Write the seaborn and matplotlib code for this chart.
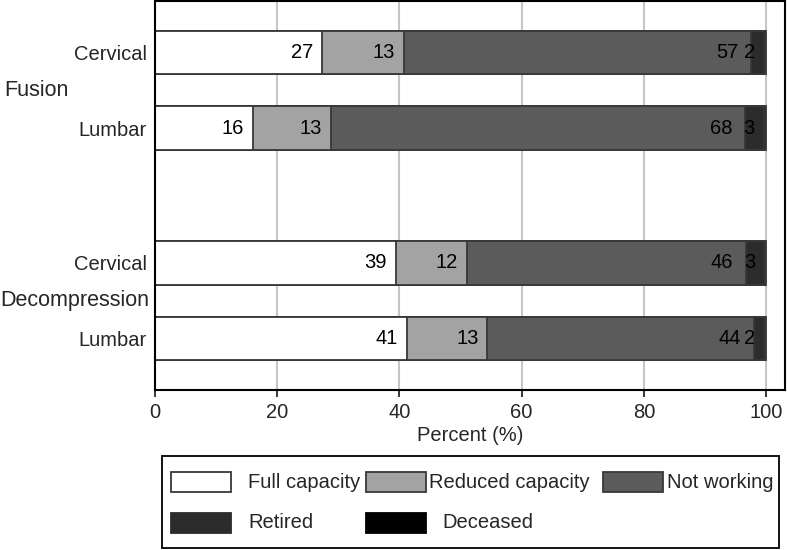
import numpy as np
import matplotlib
matplotlib.use("Agg")
import matplotlib.pyplot as plt
import matplotlib.transforms as mtransforms
from matplotlib.patches import Rectangle
import seaborn as sns

# data (percent of patients)
groups = ["Fusion", "Decompression"]
sites = ["Cervical", "Lumbar", "Cervical", "Lumbar"]
categories = ["Full capacity", "Reduced capacity", "Not working", "Retired", "Deceased"]
full_capacity = [27.4, 16.0, 39.4, 41.3]
reduced_capacity = [13.3, 12.8, 11.6, 13.1]
not_working = [56.8, 67.7, 45.7, 43.6]
retired = [2.3, 3.2, 3.1, 1.8]
deceased = [0.2, 0.3, 0.2, 0.2]

values = [full_capacity, reduced_capacity, not_working, retired, deceased]
colors = ["#ffffff", "#a3a3a3", "#5b5b5b", "#2c2c2c", "#000000"]
edge = "#383838"

sns.set_style("white")
plt.rcParams["font.family"] = ["Liberation Sans", "DejaVu Sans"]
fs = 14.5

W, H = 787, 550


def fx(px):
    return px / W


def fy(py):
    # pixel y from top -> figure fraction from bottom
    return 1 - py / H


# bar positions: two bars per group with a gap between groups
pos = np.array([0, 1, 2.78, 3.78])

fig = plt.figure(figsize=(W / 100, H / 100), dpi=100)
ax = fig.add_axes([fx(155), fy(390), fx(630), 389 / H])

cum = np.cumsum(np.array(values), axis=0)

# draw cumulative totals from the longest down so shorter ones cover them
for i in reversed(range(len(categories))):
    sns.barplot(x=cum[i], y=pos, orient="h", native_scale=True,
                color=colors[i], edgecolor=edge, linewidth=1.3,
                width=0.58, saturation=1, ax=ax)

# value labels inside segment ends (deceased not labelled)
offsets = [-6.5, -6.5, -9, -7]
for i in range(4):
    for j in range(len(pos)):
        ax.annotate(f"{values[i][j]:.0f}", (cum[i][j], pos[j]),
                    xytext=(offsets[i], 0), textcoords="offset points",
                    ha="right", va="center", fontsize=fs, color="black")

ax.set_xlim(0, 103.1)
ax.set_ylim(pos[-1] + 0.68, pos[0] - 0.68)
ax.set_xticks([0, 20, 40, 60, 80, 100])
ax.set_yticks(pos)
ax.set_yticklabels(sites)
ax.tick_params(axis="y", length=0, pad=6, labelsize=fs)
ax.tick_params(axis="x", length=5, width=1.3, pad=4, labelsize=fs,
               bottom=True, direction="out")
for x in [20, 40, 60, 80, 100]:
    ax.axvline(x, color="#c6c6c6", lw=1.5, zorder=0)
ax.set_axisbelow(True)
ax.set_xlabel("Percent (%)", fontsize=fs, labelpad=3)
ax.set_ylabel("")
for s in ax.spines.values():
    s.set_visible(True)
    s.set_color("black")
    s.set_linewidth(1.5)

# group labels on the left, centred between their two bars
trans_f = mtransforms.blended_transform_factory(fig.transFigure, ax.transData)
fig.text(fx(4), (pos[0] + pos[1]) / 2, groups[0], transform=trans_f,
         ha="left", va="center", fontsize=15.5)
fig.text(fx(0), (pos[2] + pos[3]) / 2, groups[1], transform=trans_f,
         ha="left", va="center", fontsize=15.5)

# legend box drawn in figure pixels, laid out like the original
fig.patches.append(Rectangle((fx(162), fy(548)), fx(617), (548 - 456) / H,
                             transform=fig.transFigure, fill=False,
                             edgecolor="black", lw=1.3))
swatch_x = [171, 366, 603, 171, 366]
text_x = [248, 429, 667, 248, 442]
row_y = [482, 482, 482, 523, 523]
for i, cat in enumerate(categories):
    fig.patches.append(Rectangle((fx(swatch_x[i]), fy(row_y[i] + 10)), fx(60), 20 / H,
                                 transform=fig.transFigure, facecolor=colors[i],
                                 edgecolor=edge if i < 3 else colors[i], lw=1.3))
    fig.text(fx(text_x[i]), fy(row_y[i]), cat, ha="left", va="center", fontsize=fs)

fig.savefig("out.png", dpi=100)
